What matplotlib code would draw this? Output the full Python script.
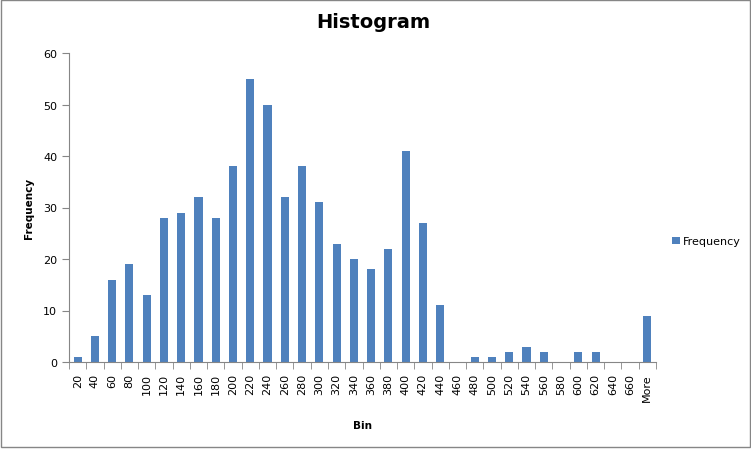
import matplotlib
matplotlib.use("Agg")
import matplotlib.pyplot as plt
import numpy as np
from matplotlib.patches import Rectangle

bins = ["20", "40", "60", "80", "100", "120", "140", "160", "180", "200", "220",
        "240", "260", "280", "300", "320", "340", "360", "380", "400", "420", "440",
        "460", "480", "500", "520", "540", "560", "580", "600", "620", "640", "660", "More"]
frequency = [1, 5, 16, 19, 13, 28, 29, 32, 28, 38, 55,
             50, 32, 38, 31, 23, 20, 18, 22, 41, 27, 11,
             0, 1, 1, 2, 3, 2, 0, 2, 2, 0, 0, 9]

plt.rcParams['font.family'] = ['DejaVu Sans']
fig = plt.figure(figsize=(7.51, 4.52), dpi=100)
ax = fig.add_axes([69/751, 1-363/452, (656-69)/751, (363-54)/452])

x = np.arange(len(bins))
bars = ax.bar(x, frequency, width=0.47, color="#4F81BD", label="Frequency", zorder=2)

ax.set_xlim(-0.5, len(bins) - 0.5)
ax.set_ylim(0, 60)
ax.set_yticks(range(0, 61, 10))
ax.set_xticks(x)
ax.set_xticklabels(bins, rotation=90, fontsize=8)
ax.set_xticks(np.arange(-0.5, len(bins), 1), minor=True)
ax.tick_params(axis='x', which='major', length=0, pad=8)
ax.tick_params(axis='x', which='minor', length=5, color="#868686", direction='out')
ax.tick_params(axis='y', labelsize=8, length=5, color="#868686", direction='out')

for s in ["top", "right"]:
    ax.spines[s].set_visible(False)
for s in ["left", "bottom"]:
    ax.spines[s].set_color("#868686")

ax.set_ylabel("Frequency", fontsize=7.5, fontweight='bold')
ax.yaxis.set_label_coords(-35/587, 0.5)
ax.set_xlabel("Bin", fontsize=7.5, fontweight='bold', labelpad=14)
fig.text(0.497, 1-23/452, "Histogram", ha='center', va='center', fontsize=14, fontweight='bold')

leg = ax.legend(loc='center left', bbox_to_anchor=(1.01, 0.39), frameon=False,
                fontsize=8, handlelength=0.7, handleheight=0.7, handletextpad=0.3)

fig.patches.append(Rectangle((0.5/751, 1-448/452), 749/751, 447/452, transform=fig.transFigure,
                             fill=False, edgecolor="#868686", linewidth=1))

fig.savefig("out.png", dpi=100)
